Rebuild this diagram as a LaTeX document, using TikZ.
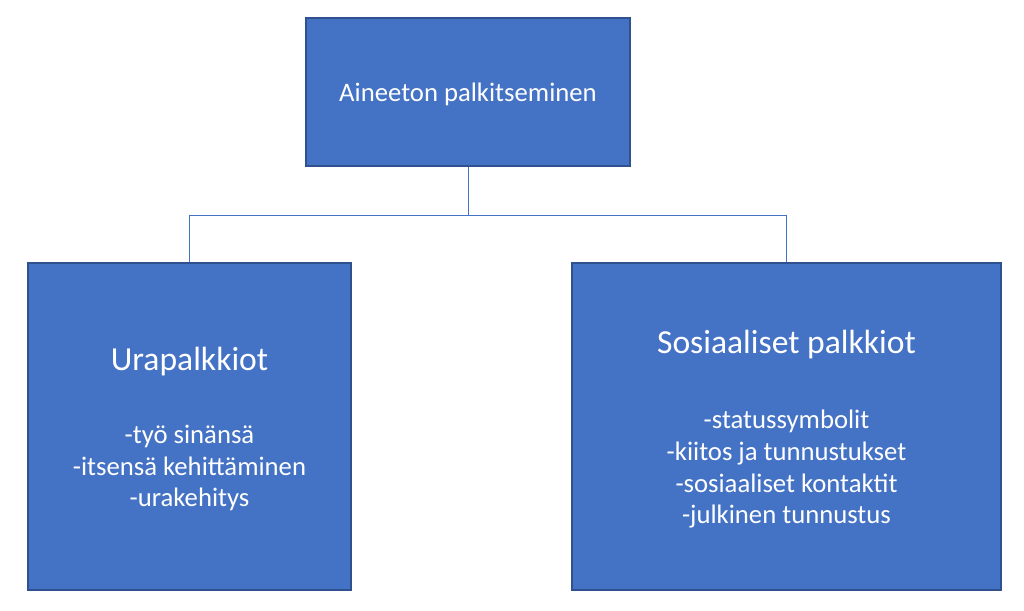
\documentclass[tikz,border=0pt]{standalone}
\usepackage{fontspec}
\setmainfont{Carlito}
\definecolor{boxfill}{HTML}{4472C4}
\definecolor{boxline}{HTML}{2F528F}
\tikzset{
  box/.style={draw=boxline, fill=boxfill, line width=1.3pt, inner sep=0pt},
  conn/.style={draw=boxfill, line width=1pt},
  txt/.style={text=white, inner sep=0pt, anchor=base, font=\fontsize{26.7}{32}\selectfont},
  ttl/.style={text=white, inner sep=0pt, anchor=base, font=\fontsize{33.6}{40}\selectfont}
}
\begin{document}
\begin{tikzpicture}[x=1pt,y=-1pt]
\useasboundingbox (0,0) rectangle (1024,610);
\node[box, minimum width=324pt, minimum height=148pt] (top) at (468,92) {};
\node[box, minimum width=323pt, minimum height=327pt] (left) at (189.5,426.5) {};
\node[box, minimum width=429pt, minimum height=327pt] (right) at (786.5,426.5) {};
\coordinate (j) at (468,215);
\draw[conn] (top.south) -- (j);
\draw[conn] (j) -| (left.north);
\draw[conn] (j) -| (right.north);
\node[txt] (t0) at (468,101) {Aineeton palkitseminen};
\node[ttl] (lt) at (189.5,370) {Urapalkkiot};
\node[txt] (l1) at (189.5,443) {-työ sinänsä};
\node[txt] (l2) at (189.5,475) {-itsensä kehittäminen};
\node[txt] (l3) at (189.5,506) {-urakehitys};
\node[ttl] (rt) at (786.5,353) {Sosiaaliset palkkiot};
\node[txt] (r1) at (786.5,428) {-statussymbolit};
\node[txt] (r2) at (786.5,460) {-kiitos ja tunnustukset};
\node[txt] (r3) at (786.5,492) {-sosiaaliset kontaktit};
\node[txt] (r4) at (786.5,523) {-julkinen tunnustus};
\end{tikzpicture}
\end{document}
